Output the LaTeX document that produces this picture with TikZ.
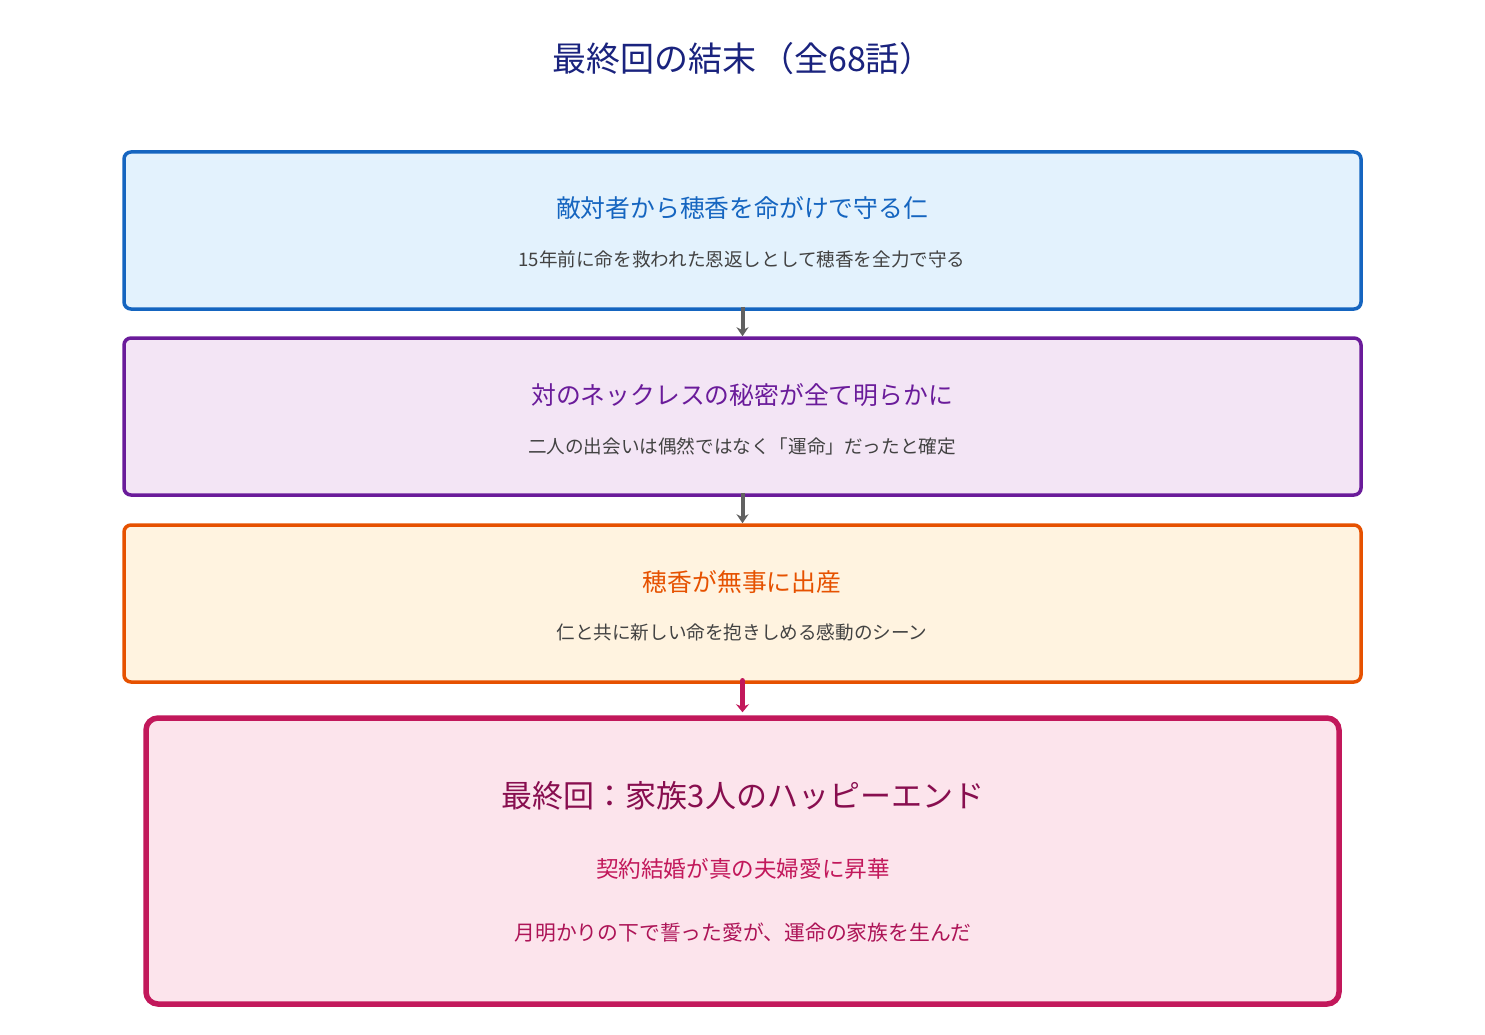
\documentclass[tikz,border=0pt]{standalone}
\usepackage{fontspec}
\setmainfont{Noto Sans CJK JP}
\usetikzlibrary{arrows.meta}
\definecolor{titlec}{HTML}{1A237E}
\definecolor{bluec}{HTML}{1565C0}
\definecolor{bluef}{HTML}{E3F2FD}
\definecolor{purpc}{HTML}{6A1B9A}
\definecolor{purpf}{HTML}{F3E5F5}
\definecolor{orac}{HTML}{E65100}
\definecolor{oraf}{HTML}{FFF3E0}
\definecolor{pinkc}{HTML}{C2185B}
\definecolor{pinkf}{HTML}{FCE4EC}
\definecolor{pinkd}{HTML}{880E4F}
\definecolor{pinkm}{HTML}{AD1457}
\definecolor{subc}{HTML}{424242}
\definecolor{arrc}{HTML}{616161}
\tikzset{
  stagebox/.style={draw, line width=3.5pt, rounded corners=7pt, minimum width=1237pt, minimum height=157pt, inner sep=0pt},
  finalbox/.style={draw=pinkc, fill=pinkf, line width=5.5pt, rounded corners=12pt, minimum width=1193pt, minimum height=286pt, inner sep=0pt},
  headtxt/.style={font=\fontsize{24.8}{29}\selectfont, inner sep=0pt},
  subtxt/.style={font=\fontsize{18.6}{22}\selectfont, text=subc, inner sep=0pt},
  flow/.style={draw=arrc, line width=4pt, -{Stealth[length=9pt,width=12pt]}},
  finalflow/.style={draw=pinkc, line width=5.5pt, line cap=round, -{Stealth[length=8pt,width=13pt]}}
}
\begin{document}
\begin{tikzpicture}[x=1pt,y=-1pt]
\useasboundingbox (0,0) rectangle (1485,1035);
\fill[white] (0,0) rectangle (1485,1035);
\node[font=\fontsize{34}{39}\selectfont, text=titlec, inner sep=0pt] (title) at (743,59) {最終回の結末\hspace{0.12em}（全68話）};

\node[stagebox, draw=bluec, fill=bluef] (b1) at (742.5,230.5) {};
\node[headtxt, text=bluec] (h1) at (742,208) {敵対者から穂香を命がけで守る仁};
\node[subtxt] (s1) at (742,259) {15年前に命を救われた恩返しとして穂香を全力で守る};

\node[stagebox, draw=purpc, fill=purpf] (b2) at (742.5,416.5) {};
\node[headtxt, text=purpc] (h2) at (742,395) {対のネックレスの秘密が全て明らかに};
\node[subtxt] (s2) at (742,446) {二人の出会いは偶然ではなく「運命」だったと確定};

\node[stagebox, draw=orac, fill=oraf] (b3) at (742.5,603.5) {};
\node[headtxt, text=orac] (h3) at (742,582) {穂香が無事に出産};
\node[subtxt] (s3) at (742,632) {仁と共に新しい命を抱きしめる感動のシーン};

\node[finalbox] (b4) at (742.5,861) {};
\node[font=\fontsize{31}{36}\selectfont, text=pinkd, inner sep=0pt] (h4) at (743,796) {最終回：家族3人のハッピーエンド};
\node[font=\fontsize{22.6}{27}\selectfont, text=pinkc, inner sep=0pt] (l4a) at (743,869) {契約結婚が真の夫婦愛に昇華};
\node[font=\fontsize{20.8}{25}\selectfont, text=pinkm, inner sep=0pt] (l4b) at (743,933) {月明かりの下で誓った愛が、運命の家族を生んだ};

\draw[flow] ([yshift=4pt]b1.south) -- (b2.north);
\draw[flow] ([yshift=4pt]b2.south) -- (b3.north);
\draw[finalflow] ([yshift=3pt]b3.south) -- ([yshift=3pt]b4.north);
\end{tikzpicture}
\end{document}
